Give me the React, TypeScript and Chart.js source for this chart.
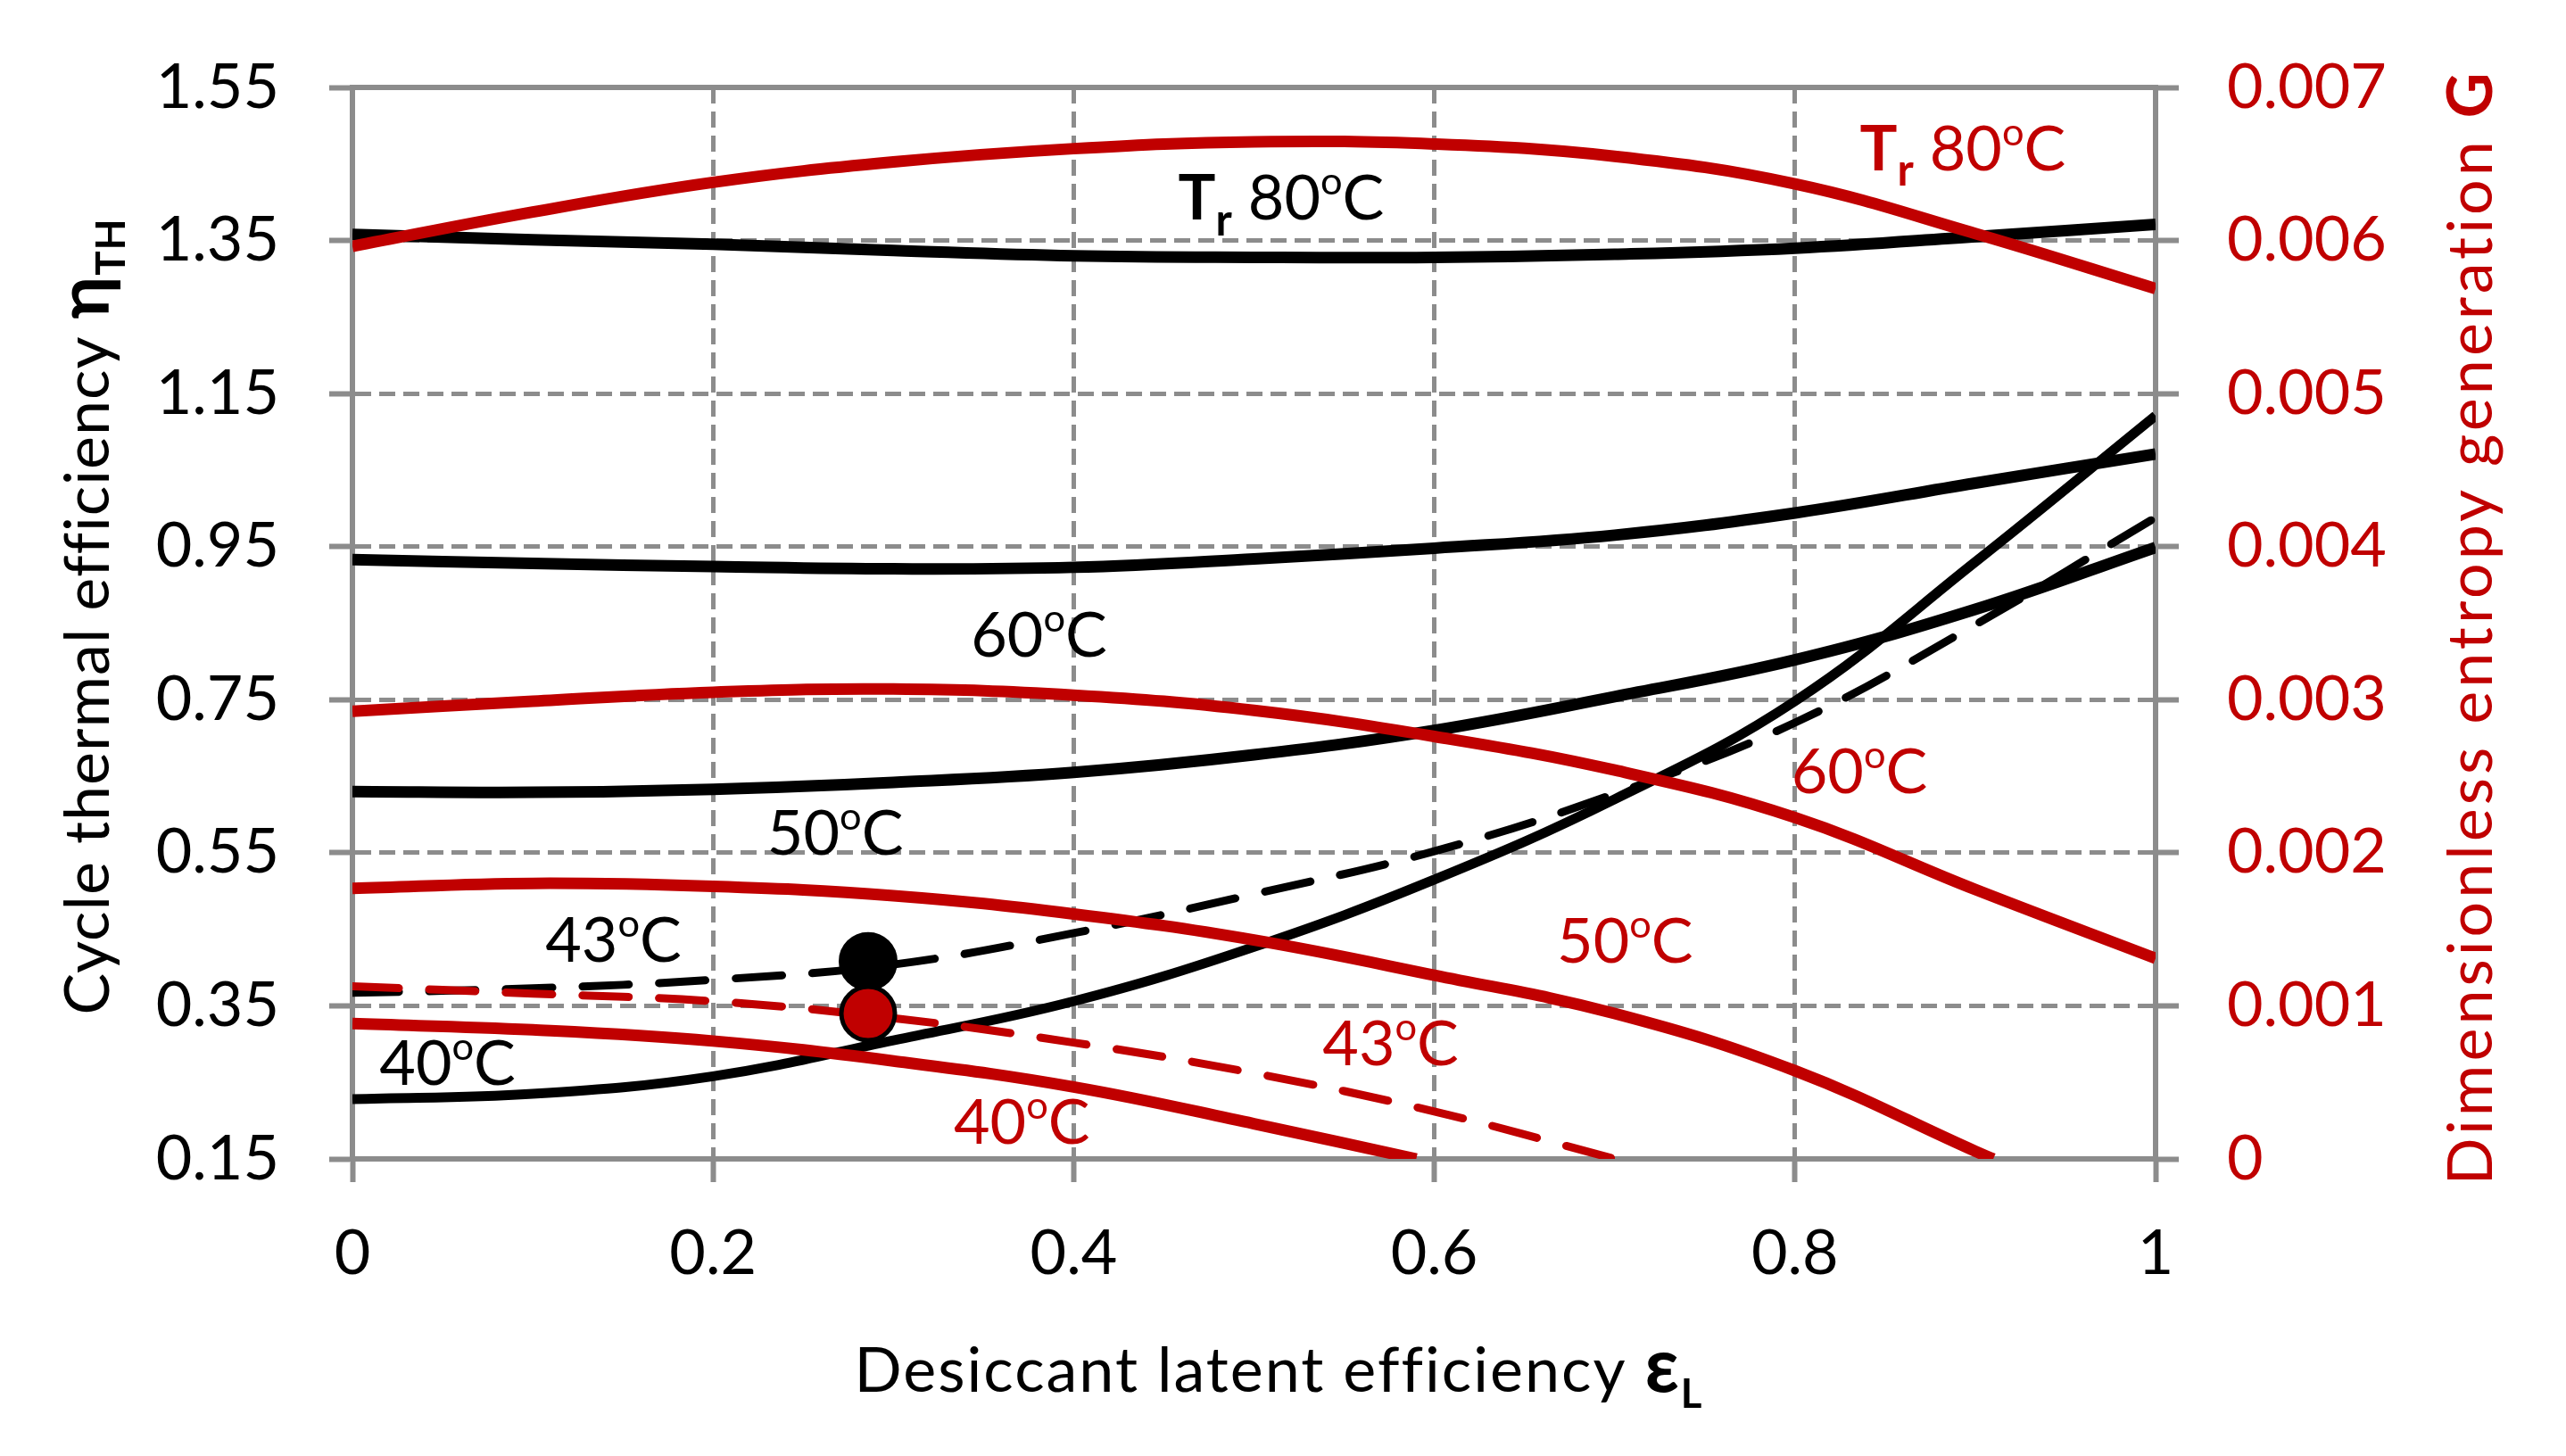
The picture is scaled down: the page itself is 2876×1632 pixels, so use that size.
import React, { useEffect, useRef } from "react";
import { Chart, registerables } from "chart.js";

Chart.register(...registerables);

const RED = "#c00000";
const GRID = "#8c8c8c";
const FONT = "Lato, 'Noto Sans', sans-serif";
const SIZE = 70;

// desiccant latent efficiency (x)
const epsL = [0, 0.1, 0.2, 0.3, 0.4, 0.5, 0.6, 0.7, 0.8, 0.9, 1.0];
const epsG50 = [0, 0.1, 0.2, 0.3, 0.4, 0.5, 0.6, 0.7, 0.8, 0.9, 0.91];
const epsG43 = [0, 0.1, 0.2, 0.3, 0.4, 0.5, 0.6, 0.7];
const epsG40 = [0, 0.1, 0.2, 0.3, 0.4, 0.5, 0.59];

// cycle thermal efficiency, left axis
const eta80 = [1.358, 1.351, 1.345, 1.337, 1.33, 1.328, 1.328, 1.332, 1.34, 1.355, 1.371];
const eta60 = [0.933, 0.928, 0.924, 0.921, 0.923, 0.934, 0.948, 0.965, 0.994, 1.033, 1.071];
const eta50 = [0.63, 0.629, 0.633, 0.642, 0.655, 0.678, 0.71, 0.754, 0.802, 0.868, 0.949];
const eta43 = [0.367, 0.373, 0.384, 0.404, 0.445, 0.496, 0.552, 0.627, 0.72, 0.848, 0.988];
const eta40 = [0.228, 0.235, 0.258, 0.305, 0.356, 0.427, 0.515, 0.62, 0.748, 0.93, 1.121];

// dimensionless entropy generation, right axis
const g80 = [0.005962, 0.006186, 0.00638, 0.006513, 0.0066, 0.006645, 0.00663, 0.00655, 0.00637, 0.006046, 0.005686];
const g60 = [0.002924, 0.00299, 0.003049, 0.00307, 0.00303, 0.00293, 0.00276, 0.00254, 0.00223, 0.00176, 0.00131];
const g50 = [0.001767, 0.0018, 0.00178, 0.00172, 0.0016, 0.00143, 0.0012, 0.00095, 0.000576, 0.00005, 0];
const g43 = [0.001128, 0.00108, 0.00103, 0.00092, 0.00076, 0.00056, 0.00031, 0];
const g40 = [0.000884, 0.000843, 0.00077, 0.00064, 0.00047, 0.00023, 0];

// design point (43 C)
const pointEps = 0.286;
const pointEta = 0.408;
const pointG = 0.00095;

const xTicks = [0, 0.2, 0.4, 0.6, 0.8, 1];
const etaTicks = [0.15, 0.35, 0.55, 0.75, 0.95, 1.15, 1.35, 1.55];
const gTicks = [0, 0.001, 0.002, 0.003, 0.004, 0.005, 0.006, 0.007];

type Part = { t: string; b?: boolean; sub?: boolean; sup?: boolean; k?: number };

const deg = (n: string): Part[] => [{ t: n }, { t: "o", sup: true }, { t: "C" }];
const tr80: Part[] = [{ t: "T", b: true }, { t: "r", b: true, sub: true, k: 0.7 }, { t: " " }, ...deg("80")];

// label anchors in (eps, left-axis) units
const labels = [
  { parts: tr80, x: 0.458, y: 1.377, color: "#000" },
  { parts: deg("60"), x: 0.343, y: 0.806, color: "#000" },
  { parts: deg("50"), x: 0.23, y: 0.548, color: "#000" },
  { parts: deg("43"), x: 0.107, y: 0.408, color: "#000" },
  { parts: deg("40"), x: 0.015, y: 0.2465, color: "#000" },
  { parts: tr80, x: 0.836, y: 1.442, color: RED },
  { parts: deg("60"), x: 0.798, y: 0.628, color: RED },
  { parts: deg("50"), x: 0.668, y: 0.407, color: RED },
  { parts: deg("43"), x: 0.538, y: 0.272, color: RED },
  { parts: deg("40"), x: 0.3335, y: 0.17, color: RED },
];

const fontFor = (p: Part, size: number) => {
  const k = p.k ?? (p.sub || p.sup ? 0.62 : 1);
  return `${p.b ? "bold " : ""}${size * k}px ${FONT}`;
};

function drawRich(
  ctx: CanvasRenderingContext2D,
  parts: Part[],
  x: number,
  y: number,
  size: number,
  color: string,
  align: "left" | "center",
  spacing = 0
) {
  (ctx as any).letterSpacing = `${spacing}px`;
  let w = 0;
  parts.forEach((p) => {
    ctx.font = fontFor(p, size);
    w += ctx.measureText(p.t).width;
  });
  let cx = align === "center" ? x - w / 2 : x;
  ctx.fillStyle = color;
  ctx.textAlign = "left";
  ctx.textBaseline = "alphabetic";
  parts.forEach((p) => {
    ctx.font = fontFor(p, size);
    const dy = p.sub ? size * 0.25 : p.sup ? -size * 0.4 : 0;
    ctx.fillText(p.t, cx, y + dy);
    cx += ctx.measureText(p.t).width;
  });
  (ctx as any).letterSpacing = "0px";
}

const overlay = {
  id: "overlay",
  beforeDatasetsDraw(chart: any) {
    const { ctx, chartArea: a } = chart;
    ctx.save();
    ctx.strokeStyle = GRID;
    ctx.lineWidth = 6;
    ctx.beginPath();
    ctx.moveTo(a.left, a.top);
    ctx.lineTo(a.right, a.top);
    ctx.stroke();
    ctx.restore();
  },
  afterDraw(chart: any) {
    const { ctx, chartArea: a, scales } = chart;
    ctx.save();
    labels.forEach((l) => {
      drawRich(ctx, l.parts, scales.x.getPixelForValue(l.x), scales.eta.getPixelForValue(l.y), SIZE, l.color, "left");
    });

    drawRich(
      ctx,
      [{ t: "Desiccant latent efficiency " }, { t: "ε", b: true, k: 1.2 }, { t: "L", b: true, sub: true, k: 0.65 }],
      (a.left + a.right) / 2 + 28,
      a.bottom + 261,
      SIZE,
      "#000",
      "center",
      2
    );

    ctx.save();
    ctx.translate(a.left - 273, a.top + 593);
    ctx.rotate(-Math.PI / 2);
    drawRich(
      ctx,
      [{ t: "Cycle thermal efficiency " }, { t: "η", b: true, k: 1.15 }, { t: "TH", b: true, sub: true, k: 0.65 }],
      0,
      0,
      SIZE,
      "#000",
      "center",
      1
    );
    ctx.restore();

    ctx.save();
    ctx.translate(a.right + 377, a.top + 605);
    ctx.rotate(-Math.PI / 2);
    drawRich(ctx, [{ t: "Dimensionless entropy generation " }, { t: "G", b: true }], 0, 0, SIZE, RED, "center", 4);
    ctx.restore();
    ctx.restore();
  },
};

const pts = (xs: number[], ys: number[]) => xs.map((x, i) => ({ x, y: ys[i] }));

const line = (data: any[], color: string, width: number, axis: string, dashed = false) => ({
  data,
  borderColor: color,
  borderWidth: width,
  borderDash: dashed ? [52, 34] : [],
  borderCapStyle: dashed ? "round" : "butt",
  pointRadius: 0,
  yAxisID: axis,
  tension: 0.4,
  fill: false,
});

const App: React.FC = () => {
  const chartRef = useRef<HTMLCanvasElement>(null);

  useEffect(() => {
    if (!chartRef.current) return;

    const datasets: any[] = [
      {
        data: [{ x: pointEps, y: pointG }],
        yAxisID: "g",
        showLine: false,
        pointRadius: 30,
        pointBackgroundColor: RED,
        pointBorderColor: "#000",
        pointBorderWidth: 5,
      },
      {
        data: [{ x: pointEps, y: pointEta }],
        yAxisID: "eta",
        showLine: false,
        pointRadius: 31,
        pointBackgroundColor: "#000",
        pointBorderColor: "#000",
        pointBorderWidth: 4,
      },
      line(pts(epsL, g80), RED, 13, "g"),
      line(pts(epsL, g60), RED, 13, "g"),
      line(pts(epsG50, g50), RED, 13, "g"),
      line(pts(epsG43, g43), RED, 9, "g", true),
      line(pts(epsG40, g40), RED, 13, "g"),
      line(pts(epsL, eta80), "#000", 13, "eta"),
      line(pts(epsL, eta60), "#000", 13, "eta"),
      line(pts(epsL, eta50), "#000", 13, "eta"),
      line(pts(epsL, eta43), "#000", 9, "eta", true),
      line(pts(epsL, eta40), "#000", 11, "eta"),
    ];

    const chart = new Chart(chartRef.current, {
      type: "line",
      data: { datasets },
      options: {
        animation: false,
        responsive: true,
        maintainAspectRatio: false,
        events: [],
        layout: { padding: { top: 95, left: 0, right: 0, bottom: 0 } },
        plugins: { legend: { display: false }, tooltip: { enabled: false } },
        scales: {
          x: {
            type: "linear",
            min: 0,
            max: 1,
            afterBuildTicks: (axis: any) => {
              axis.ticks = xTicks.map((v) => ({ value: v }));
            },
            afterFit: (s: any) => {
              s.height = 333;
            },
            ticks: {
              autoSkip: false,
              maxRotation: 0,
              padding: 38,
              color: "#000",
              font: { family: FONT, size: SIZE },
              callback: (v: any) => String(v),
            },
            grid: { color: GRID, lineWidth: 5, tickLength: 26, tickWidth: 6, tickColor: GRID, tickBorderDash: [] },
            border: { display: true, color: GRID, width: 6, dash: [18, 9] },
          },
          eta: {
            type: "linear",
            position: "left",
            min: 0.15,
            max: 1.55,
            afterBuildTicks: (axis: any) => {
              axis.ticks = etaTicks.map((v) => ({ value: v }));
            },
            afterFit: (s: any) => {
              s.width = 395;
            },
            ticks: {
              autoSkip: false,
              padding: 56,
              color: "#000",
              font: { family: FONT, size: SIZE },
              callback: (v: any) => Number(v).toFixed(2),
            },
            grid: { color: GRID, lineWidth: 5, tickLength: 26, tickWidth: 6, tickColor: GRID, tickBorderDash: [] },
            border: { display: true, color: GRID, width: 6, dash: [18, 9] },
          },
          g: {
            type: "linear",
            position: "right",
            min: 0,
            max: 0.007,
            afterBuildTicks: (axis: any) => {
              axis.ticks = gTicks.map((v) => ({ value: v }));
            },
            afterFit: (s: any) => {
              s.width = 460;
            },
            ticks: {
              autoSkip: false,
              padding: 54,
              color: RED,
              font: { family: FONT, size: SIZE },
              callback: (v: any) => (Number(v) === 0 ? "0" : Number(v).toFixed(3)),
            },
            grid: { drawOnChartArea: false, color: GRID, tickLength: 26, tickWidth: 6, tickColor: GRID },
            border: { display: true, color: GRID, width: 6 },
          },
        },
      },
      plugins: [overlay],
    });

    return () => {
      chart.destroy();
    };
  }, []);

  return (
    <div style={{ position: "fixed", left: 0, top: 0, width: 2876, height: 1632, background: "#fff" }}>
      <canvas ref={chartRef} />
    </div>
  );
};

export default App;
